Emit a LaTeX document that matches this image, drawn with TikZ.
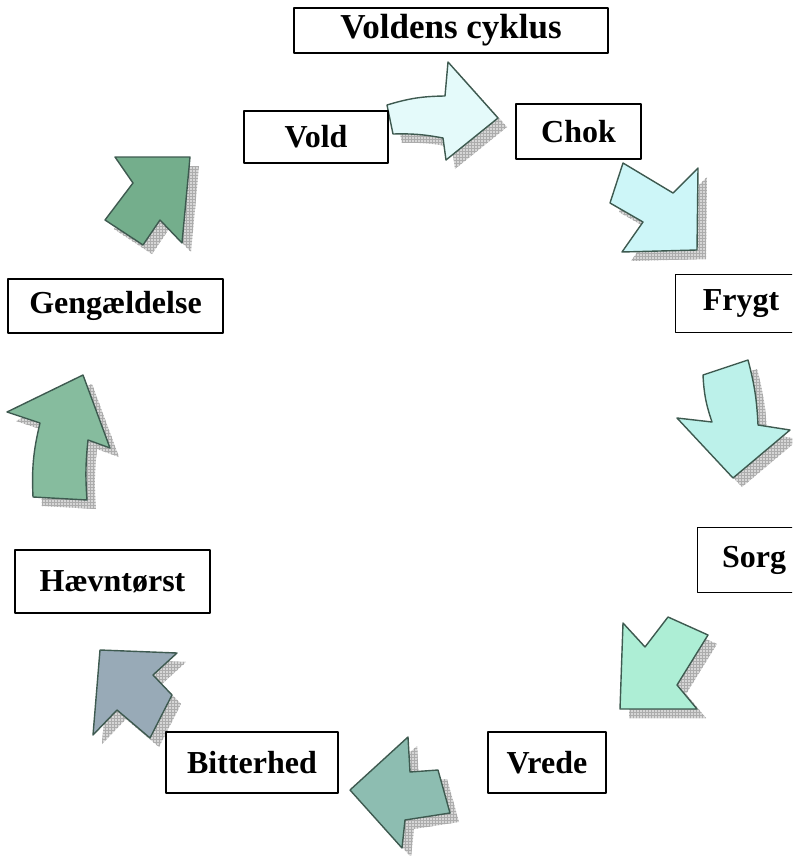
\documentclass[tikz,border=0pt]{standalone}
\usepackage{fontspec}
\setmainfont{Liberation Serif}
\usetikzlibrary{patterns}
\definecolor{pilrand}{HTML}{3E5A50}
\definecolor{pilA}{HTML}{E4FAFA}
\definecolor{pilB}{HTML}{CDF6F8}
\definecolor{pilC}{HTML}{BCF1EA}
\definecolor{pilD}{HTML}{ADEED5}
\definecolor{pilE}{HTML}{8DBDB1}
\definecolor{pilF}{HTML}{98AAB7}
\definecolor{pilG}{HTML}{86BC9E}
\definecolor{pilH}{HTML}{74AE8C}
% one arrow: shadow first, then the filled shape
\newcommand{\cyklpil}[2]{%
  \fill[skygge, shift={(9,9)}] #2;
  \filldraw[pilstreg, fill=#1] #2;}
\begin{document}
\begin{tikzpicture}[x=1pt, y=-1pt, line join=round, line cap=round,
  felt/.style={draw, line width=1.3pt, fill=white, inner sep=0pt,
    font=\bfseries\fontsize{32}{37}\selectfont},
  aabentfelt/.style={felt, draw=none},
  pilstreg/.style={draw=pilrand, line width=1.4pt},
  skygge/.style={preaction={fill=gray!32}, pattern=grid, pattern color=gray!65}]
\useasboundingbox (0,0) rectangle (792,856);
\clip (0,0) rectangle (792,856);
% arrows round the cycle
\cyklpil{pilA}{(387,105) to[bend left=8] (445,96) -- (448,62) -- (498,118) -- (446,160) -- (443,138) to[bend right=6] (393,134) -- cycle}
\cyklpil{pilB}{(623,163) -- (673,193) -- (698,168) -- (697,250) -- (622,252) -- (643,222) -- (610,203) -- cycle}
\cyklpil{pilC}{(703,375) -- (748,360) to[bend left=6] (758,425) -- (790,430) -- (733,478) -- (677,418) -- (712,422) to[bend left=8] cycle}
\cyklpil{pilD}{(623,623) -- (645,647) -- (668,617) -- (708,635) -- (677,685) -- (697,709) -- (620,709) -- cycle}
\cyklpil{pilE}{(350,790) -- (408,737) -- (410,772) -- (438,770) -- (450,813) -- (405,820) -- (402,848) -- cycle}
\cyklpil{pilF}{(100,650) -- (177,653) -- (153,675) -- (172,695) -- (150,738) -- (117,710) -- (93,735) -- cycle}
\cyklpil{pilG}{(83,375) -- (110,448) -- (88,440) to[bend right=5] (87,500) -- (33,497) to[bend left=8] (40,423) -- (7,412) -- cycle}
\cyklpil{pilH}{(115,157) -- (190,157) -- (182,243) -- (160,220) -- (143,245) -- (105,220) -- (133,183) -- cycle}
% labels
\node[felt, minimum width=314, minimum height=45, font=\bfseries\fontsize{35}{40}\selectfont] (titel) at (451,30.5) {Voldens cyklus};
\node[felt, minimum width=144, minimum height=52] (vold) at (316,137) {Vold};
\node[felt, minimum width=125, minimum height=55] (chok) at (578.5,131.5) {Chok};
\node[aabentfelt, minimum width=130, minimum height=57] (frygt) at (741,303.5) {Frygt};
\node[aabentfelt, minimum width=112, minimum height=64] (sorg) at (754,560) {Sorg};
\node[felt, minimum width=118, minimum height=61] (vrede) at (547,762.5) {Vrede};
\node[felt, minimum width=172, minimum height=61] (bitterhed) at (252,762.5) {Bitterhed};
\node[felt, minimum width=195, minimum height=63] (haevn) at (112.5,581.5) {Hævntørst};
\node[felt, minimum width=215, minimum height=54] (gengaeld) at (115.5,306) {Gengældelse};
% boxes cut by the right margin
\draw[line width=1.6pt, line cap=butt] (frygt.north east) -- (frygt.north west) -- (frygt.south west) -- (frygt.south east);
\draw[line width=1.6pt, line cap=butt] (sorg.north east) -- (sorg.north west) -- (sorg.south west) -- (sorg.south east);
\end{tikzpicture}
\end{document}
